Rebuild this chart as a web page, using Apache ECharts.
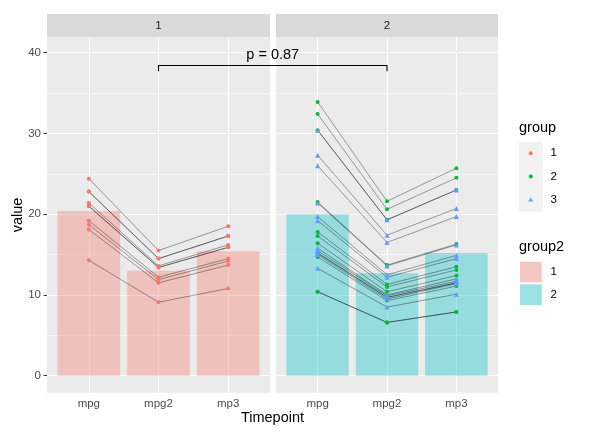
<!DOCTYPE html>
<html><head><meta charset="utf-8">
<script src="https://cdn.jsdelivr.net/npm/echarts@6/dist/echarts.min.js"></script>
<style>html,body{margin:0;padding:0;background:#fff}#c{width:590px;height:440px}</style>
</head><body><div id="c"></div>
<script>
// ---------- data ----------
const timepoints = ['mpg', 'mpg2', 'mp3'];
const yTicks = [0, 10, 20, 30, 40];
const yMinor = [5, 15, 25, 35];
const facets = ['1', '2'];
const groupNames = ['1', '2', '3'];
const group2Names = ['1', '2'];

const facet1_group = [1, 1, 1, 1, 1, 1, 1, 1, 1, 1];
const facet1_mpg  = [21.0, 21.0, 22.8, 21.4, 18.7, 18.1, 14.3, 24.4, 22.8, 19.2];
const facet1_mpg2 = [13.4, 13.4, 14.5, 13.6, 11.9, 11.5, 9.1, 15.5, 14.5, 12.2];
const facet1_mp3  = [15.9, 15.9, 17.3, 16.2, 14.2, 13.7, 10.8, 18.5, 17.3, 14.5];

const facet2_group = [2, 2, 2, 2, 2, 2, 2, 2, 2, 2, 2, 3, 3, 3, 3, 3, 3, 3, 3, 3, 3, 3];
const facet2_mpg  = [17.8, 16.4, 17.3, 15.2, 10.4, 10.4, 14.7, 32.4, 30.4, 33.9, 21.5, 15.5, 15.2, 13.3, 19.2, 27.3, 26.0, 30.4, 15.8, 19.7, 15.0, 21.4];
const facet2_mpg2 = [11.3, 10.4, 11.0, 9.7, 6.6, 6.6, 9.3, 20.6, 19.3, 21.6, 13.7, 9.9, 9.7, 8.5, 12.2, 17.4, 16.5, 19.3, 10.0, 12.5, 9.5, 13.6];
const facet2_mp3  = [13.5, 12.4, 13.1, 11.5, 7.9, 7.9, 11.1, 24.5, 23.0, 25.7, 16.3, 11.7, 11.5, 10.1, 14.5, 20.7, 19.7, 23.0, 12.0, 14.9, 11.4, 16.2];

const bar_facet1 = [20.4, 13.0, 15.4];
const bar_facet2 = [20.0, 12.7, 15.2];

const pLabel = 'p = 0.87';
const bracketValue = 38.4;
const bracketTickValue = 37.7;
const pLabelValue = 39.7;

// ---------- styling / layout ----------
const GRID = [
  {left: 47, top: 37.3, width: 223, height: 355.4},
  {left: 276, top: 37.3, width: 222, height: 355.4}
];
const YMIN = -2.1, YMAX = 41.9, XMIN = 0.4, XMAX = 3.6;
const COLORS = {1: '#F8766D', 2: '#00BA38', 3: '#619CFF'};
const SYMBOLS = {1: 'circle', 2: 'circle', 3: 'triangle'};
const FILLS = ['rgba(248,118,109,0.36)', 'rgba(0,191,196,0.36)'];
const FONT = 'Liberation Sans, Arial, sans-serif';

const facetData = [
  {group: facet1_group, v: [facet1_mpg, facet1_mpg2, facet1_mp3], bar: bar_facet1},
  {group: facet2_group, v: [facet2_mpg, facet2_mpg2, facet2_mp3], bar: bar_facet2}
];

const chart = echarts.init(document.getElementById('c'), null, {renderer: 'canvas'});

const grids = GRID.map(g => Object.assign({show: true, backgroundColor: '#EBEBEB', borderWidth: 0, containLabel: false}, g));

const xAxes = GRID.map((g, i) => ({
  type: 'value', gridIndex: i, min: XMIN, max: XMAX,
  axisLine: {show: false},
  splitLine: {show: false},
  axisTick: {show: true, length: 3.5, customValues: [1, 2, 3], lineStyle: {color: '#333333', width: 1}},
  axisLabel: {show: true, customValues: [1, 2, 3], margin: 5, color: '#4D4D4D', fontSize: 11.5, fontFamily: FONT,
    formatter: v => timepoints[Math.round(v) - 1] || ''}
}));

const yAxes = GRID.map((g, i) => ({
  type: 'value', gridIndex: i, min: YMIN, max: YMAX,
  axisLine: {show: false},
  splitLine: {show: false},
  axisTick: {show: i === 0, length: 3.5, customValues: yTicks, lineStyle: {color: '#333333', width: 1}},
  axisLabel: {show: i === 0, customValues: yTicks, margin: 6, color: '#4D4D4D', fontSize: 11.5, fontFamily: FONT}
}));

const series = [];
facetData.forEach((f, i) => {
  const gridLines = [];
  yTicks.forEach(t => gridLines.push({yAxis: t, lineStyle: {color: '#FFFFFF', width: 1.1, type: 'solid'}}));
  yMinor.forEach(t => gridLines.push({yAxis: t, lineStyle: {color: '#FFFFFF', width: 0.55, type: 'solid'}}));
  [1, 2, 3].forEach(x => gridLines.push({xAxis: x, lineStyle: {color: '#FFFFFF', width: 1.1, type: 'solid'}}));
  series.push({
    type: 'bar', xAxisIndex: i, yAxisIndex: i, z: 2,
    barWidth: GRID[i].width / (XMAX - XMIN) * 0.9,
    data: f.bar.map((v, k) => [k + 1, v]),
    itemStyle: {color: FILLS[i]},
    silent: true,
    markLine: {silent: true, symbol: 'none', z: 1, animation: false, label: {show: false},
      emphasis: {disabled: true}, data: gridLines}
  });
  // subject lines
  f.group.forEach((gr, s) => {
    series.push({
      type: 'line', xAxisIndex: i, yAxisIndex: i, z: 3, silent: true,
      symbol: 'none', animation: false,
      lineStyle: {color: 'rgba(0,0,0,0.36)', width: 1},
      data: [0, 1, 2].map(k => [k + 1, f.v[k][s]])
    });
  });
  // points per group
  const groups = Array.from(new Set(f.group));
  groups.forEach(gr => {
    const pts = [];
    f.group.forEach((g2, s) => {
      if (g2 === gr) [0, 1, 2].forEach(k => pts.push([k + 1, f.v[k][s]]));
    });
    series.push({
      type: 'scatter', xAxisIndex: i, yAxisIndex: i, z: 4, silent: true,
      name: String(gr), symbol: SYMBOLS[gr], symbolSize: gr === 3 ? 5 : 4,
      itemStyle: {color: COLORS[gr], opacity: 1},
      data: pts, animation: false
    });
  });
});

chart.setOption({
  animation: false,
  backgroundColor: '#FFFFFF',
  grid: grids, xAxis: xAxes, yAxis: yAxes, series: series
});

// ---------- annotations (strips, bracket, titles, legends) ----------
const P = (gi, x, y) => chart.convertToPixel({xAxisIndex: gi, yAxisIndex: gi}, [x, y]);
const gfx = [];
GRID.forEach((g, i) => {
  gfx.push({type: 'rect', shape: {x: g.left, y: 14, width: g.width, height: g.top - 14}, style: {fill: '#D9D9D9'}, silent: true});
  gfx.push({type: 'text', x: g.left + g.width / 2, y: (14 + g.top) / 2, silent: true,
    style: {text: facets[i], fill: '#1A1A1A', fontSize: 11.5, fontFamily: FONT, align: 'center', verticalAlign: 'middle'}});
});
const a = P(0, 2, bracketValue), at = P(0, 2, bracketTickValue);
const b = P(1, 2, bracketValue);
gfx.push({type: 'polyline', silent: true, z: 10,
  shape: {points: [[a[0], at[1]], [a[0], a[1]], [b[0], b[1]], [b[0], at[1]]]},
  style: {stroke: '#000000', lineWidth: 1.1, fill: null}});
const pl = P(0, 2, pLabelValue);
gfx.push({type: 'text', silent: true, z: 10, x: (a[0] + b[0]) / 2, y: pl[1],
  style: {text: pLabel, fill: '#000000', fontSize: 14.5, fontFamily: FONT, align: 'center', verticalAlign: 'middle'}});
// axis titles
gfx.push({type: 'text', silent: true, x: (GRID[0].left + GRID[1].left + GRID[1].width) / 2, y: 418,
  style: {text: 'Timepoint', fill: '#000000', fontSize: 14.5, fontFamily: FONT, align: 'center', verticalAlign: 'middle'}});
gfx.push({type: 'text', silent: true, x: 18, y: 215, rotation: Math.PI / 2,
  style: {text: 'value', fill: '#000000', fontSize: 14.5, fontFamily: FONT, align: 'center', verticalAlign: 'middle'}});
// legend: group
gfx.push({type: 'text', silent: true, x: 519, y: 128,
  style: {text: 'group', fill: '#000000', fontSize: 14.5, fontFamily: FONT, align: 'left', verticalAlign: 'middle'}});
gfx.push({type: 'rect', silent: true, shape: {x: 519, y: 141.7, width: 23.7, height: 70}, style: {fill: '#F2F2F2'}});
groupNames.forEach((n, k) => {
  const cy = 153.3 + k * 23.2;
  const gr = k + 1;
  if (SYMBOLS[gr] === 'triangle') {
    gfx.push({type: 'polygon', silent: true, shape: {points: [[530.8, cy - 2.5], [533.2, cy + 1.7], [528.4, cy + 1.7]]}, style: {fill: COLORS[gr]}});
  } else {
    gfx.push({type: 'circle', silent: true, shape: {cx: 530.8, cy: cy, r: 2}, style: {fill: COLORS[gr]}});
  }
  gfx.push({type: 'text', silent: true, x: 550.5, y: cy,
    style: {text: n, fill: '#000000', fontSize: 11.5, fontFamily: FONT, align: 'left', verticalAlign: 'middle'}});
});
// legend: group2
gfx.push({type: 'text', silent: true, x: 519, y: 246.7,
  style: {text: 'group2', fill: '#000000', fontSize: 14.5, fontFamily: FONT, align: 'left', verticalAlign: 'middle'}});
group2Names.forEach((n, k) => {
  const y0 = 260.7 + k * 22.7;
  gfx.push({type: 'rect', silent: true, shape: {x: 519, y: y0, width: 23.7, height: 22.7}, style: {fill: '#F2F2F2'}});
  gfx.push({type: 'rect', silent: true, shape: {x: 519.5, y: y0 + 0.5, width: 22.7, height: 21.7}, style: {fill: FILLS[k], stroke: '#FFFFFF', lineWidth: 1}});
  gfx.push({type: 'text', silent: true, x: 550.5, y: y0 + 11.3,
    style: {text: n, fill: '#000000', fontSize: 11.5, fontFamily: FONT, align: 'left', verticalAlign: 'middle'}});
});
chart.setOption({graphic: {elements: gfx}});
</script>
</body></html>
